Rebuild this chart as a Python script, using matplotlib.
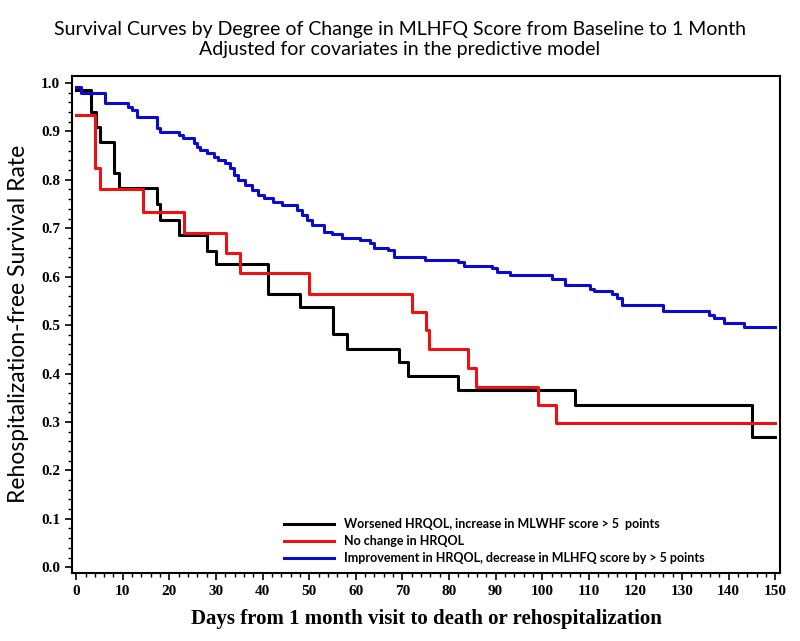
import numpy as np
import matplotlib.pyplot as plt
from matplotlib.ticker import MultipleLocator

# step curves: event days and survival after each step
worse_days = [0, 3.2, 4.2, 5.1, 8.2, 9.1, 17.3, 18, 22, 28, 30, 41.2, 48, 55, 58.1, 69.2, 71.2, 82, 107, 145, 150]
worse_surv = [0.986, 0.939, 0.908, 0.877, 0.813, 0.782, 0.749, 0.717, 0.687, 0.653, 0.626, 0.564, 0.537,
              0.481, 0.450, 0.424, 0.395, 0.366, 0.334, 0.268, 0.268]

same_days = [0, 4.1, 5.1, 14.3, 23.2, 32.1, 35.2, 50, 72, 75.1, 75.6, 84, 85.8, 99, 103, 150]
same_surv = [0.934, 0.824, 0.780, 0.734, 0.691, 0.648, 0.607, 0.565, 0.528, 0.490, 0.450, 0.412, 0.373,
             0.334, 0.298, 0.298]

better_days = [0, 1, 6.2, 11.2, 11.9, 13, 17.3, 18, 22, 23, 25.2, 25.9, 26.6, 28, 29.5, 30.5, 32, 33,
               33.8, 34.8, 36.3, 37.7, 39.1, 40.2, 42.3, 44.1, 47.4, 48.4, 49.5, 50.6, 53.1, 54.9, 57,
               60.9, 63.1, 63.8, 67, 68.1, 74.9, 82, 83.1, 89.2, 90.3, 93.1, 102.1, 104.9, 110.3, 111,
               115, 116, 117, 126, 135.7, 136.8, 138.9, 143.2, 150]
better_surv = [0.992, 0.979, 0.958, 0.951, 0.944, 0.930, 0.906, 0.899, 0.893, 0.886, 0.875, 0.868, 0.862,
               0.855, 0.848, 0.841, 0.834, 0.824, 0.810, 0.800, 0.789, 0.779, 0.769, 0.762, 0.755, 0.748,
               0.738, 0.727, 0.717, 0.707, 0.693, 0.688, 0.680, 0.676, 0.669, 0.660, 0.655, 0.640, 0.634,
               0.630, 0.622, 0.617, 0.609, 0.603, 0.595, 0.583, 0.574, 0.571, 0.565, 0.555, 0.541, 0.530,
               0.521, 0.514, 0.505, 0.496, 0.496]

labels = ["Worsened HRQOL, increase in MLWHF score > 5  points",
          "No change in HRQOL",
          "Improvement in HRQOL, decrease in MLHFQ score by > 5 points"]

fig = plt.figure(figsize=(8, 6.41), dpi=100)
ax = fig.add_axes([0.09, 0.106, 0.885, 0.776])

ax.step(worse_days, worse_surv, where="post", color="black", lw=2.2, label=labels[0])
ax.step(same_days, same_surv, where="post", color="#ee1111", lw=2.2, label=labels[1])
ax.step(better_days, better_surv, where="post", color="#0a0ad0", lw=2.2, label=labels[2])

ax.set_xlim(-0.9, 151)
ax.set_ylim(-0.012, 1.015)
ax.xaxis.set_major_locator(MultipleLocator(10))
ax.xaxis.set_minor_locator(MultipleLocator(2))
ax.yaxis.set_major_locator(MultipleLocator(0.1))
ax.yaxis.set_minor_locator(MultipleLocator(0.02))
ax.yaxis.set_major_formatter(plt.FormatStrFormatter("%.1f"))
ax.tick_params(which="major", length=5, width=1.2)
ax.tick_params(which="minor", length=3, width=1)
for s in ax.spines.values():
    s.set_linewidth(1.5)

for t in ax.get_xticklabels() + ax.get_yticklabels():
    t.set_family("Liberation Serif")
    t.set_fontweight("bold")
    t.set_fontsize(11)

ax.set_xlabel("Days from 1 month visit to death or rehospitalization",
              family="Liberation Serif", fontweight="bold", fontsize=15, labelpad=8)
ax.set_ylabel("Rehospitalization-free Survival Rate", family="Lato", fontsize=16.5, labelpad=9)

fig.text(0.5, 0.967, "Survival Curves by Degree of Change in MLHFQ Score from Baseline to 1 Month\n"
         "Adjusted for covariates in the predictive model",
         ha="center", va="top", family="Lato", fontsize=14, linespacing=1.2)

leg = ax.legend(loc="lower left", bbox_to_anchor=(0.287, 0.0), frameon=False,
                prop={"family": "Lato", "size": 9, "weight": "bold"},
                handlelength=4.0, handletextpad=0.8, labelspacing=0.4, borderaxespad=0.3)

fig.savefig("out.png", dpi=100)
